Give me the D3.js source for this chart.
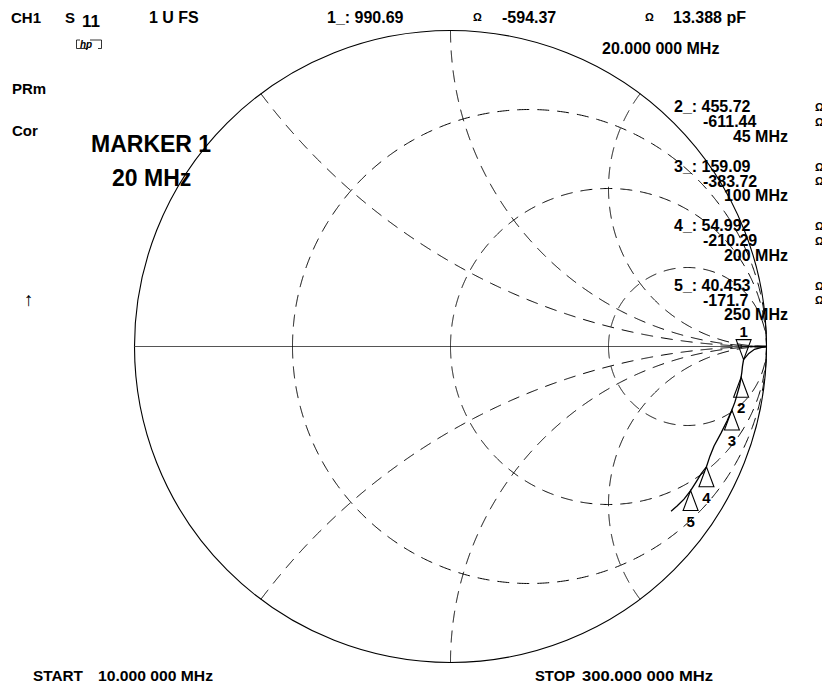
<!DOCTYPE html>
<html><head><meta charset="utf-8">
<script src="https://cdn.jsdelivr.net/npm/d3@7"></script>
<style>
body{margin:0;background:#fff}
svg{display:block}
text{font-family:"Liberation Sans",Arial,Helvetica,sans-serif;font-weight:bold;fill:#000}
</style>
</head><body>
<svg id="chart" width="822" height="689"></svg>
<script>
// ---------- data ----------
const z0 = 50;
const resistanceCircles = [1/3, 1, 3];
const reactanceArcs = [0.5, 1, 2, -0.5, -1, -2];
const markerIds = [1, 2, 3, 4, 5];
const markerFreqMHz = [20, 45, 100, 200, 250];
const markerR = [990.69, 455.72, 159.09, 54.992, 40.453];
const markerX = [-594.37, -611.44, -383.72, -210.29, -171.7];
const activeMarkerReadout = ["1_: 990.69", "-594.37", "13.388 pF"];
const activeMarkerFreq = "20.000 000 MHz";
// trace, reflection coefficient (re, im), 10 MHz .. 300 MHz
const traceRe = [0.998, 0.985, 0.962, 0.944, 0.9275, 0.924, 0.922, 0.9197, 0.9146, 0.9066, 0.900, 0.8905, 0.875, 0.856, 0.834, 0.821, 0.810, 0.793, 0.777, 0.7598, 0.739, 0.717, 0.698];
const traceIm = [-0.001, -0.003, -0.009, -0.022, -0.0414, -0.062, -0.081, -0.0971, -0.125, -0.153, -0.176, -0.2009, -0.236, -0.274, -0.315, -0.347, -0.3807, -0.403, -0.429, -0.4559, -0.483, -0.505, -0.521];
const startLabel = ["START", "10.000 000 MHz"];
const stopLabel = ["STOP", "300.000 000 MHz"];

// ---------- scales ----------
const cx = 450.5, cy = 346.5, rad = 316;
const xs = d3.scaleLinear().domain([-1, 1]).range([cx - rad, cx + rad]);
const ys = d3.scaleLinear().domain([-1, 1]).range([cy + rad, cy - rad]);

function gamma(zr, zi) { // normalized z -> Gamma
  const nr = zr - 1, ni = zi, dr = zr + 1, di = zi;
  const d = dr * dr + di * di;
  return [(nr * dr + ni * di) / d, (ni * dr - nr * di) / d];
}
const line = d3.line().x(d => xs(d[0])).y(d => ys(d[1]));
const N = 600;
const ts = d3.range(N).map(i => i / N);

const svg = d3.select("#chart");
const g = svg.append("g");

// outer circle
g.append("circle").attr("cx", xs(0)).attr("cy", ys(0)).attr("r", xs(1) - xs(0))
  .attr("fill", "none").attr("stroke", "#000").attr("stroke-width", 1.1);
// real axis
g.append("line").attr("x1", xs(-1)).attr("x2", xs(1)).attr("y1", ys(0)).attr("y2", ys(0))
  .attr("stroke", "#555").attr("stroke-width", 1.2);

const dash = "12,8";
// constant resistance circles (two halves starting at the real axis)
resistanceCircles.forEach(r => {
  [1, -1].forEach(s => {
    const pts = ts.map(t => gamma(r, s * t / (1 - t)));
    pts.push([1, 0]);
    g.append("path").attr("d", line(pts)).attr("fill", "none")
      .attr("stroke", "#000").attr("stroke-width", 1).attr("stroke-dasharray", dash);
  });
});
// constant reactance arcs (start at outer circle)
reactanceArcs.forEach(x => {
  const pts = ts.map(t => gamma(t / (1 - t), x));
  pts.push([1, 0]);
  g.append("path").attr("d", line(pts)).attr("fill", "none")
    .attr("stroke", "#000").attr("stroke-width", 1).attr("stroke-dasharray", dash);
});

// trace
const tracePts = traceRe.map((v, i) => [v, traceIm[i]]);
g.append("path").attr("d", line(tracePts)).attr("fill", "none")
  .attr("stroke", "#000").attr("stroke-width", 1.3);
// heavy start segment on the real axis
g.append("line").attr("x1", xs(traceRe[2])).attr("x2", xs(1)).attr("y1", ys(0)).attr("y2", ys(0))
  .attr("stroke", "#000").attr("stroke-width", 2);

// markers
const mk = markerIds.map((id, i) => {
  const gm = gamma(markerR[i] / z0, markerX[i] / z0);
  return { id, f: markerFreqMHz[i], R: markerR[i], X: markerX[i], px: xs(gm[0]), py: ys(gm[1]) };
});
mk.forEach((m, i) => {
  const w = 7.5, h = 20;
  let d, ly;
  if (i === 0) { // active marker: downward triangle
    d = `M${m.px},${m.py} L${m.px - w},${m.py - h} L${m.px + w},${m.py - h} Z`;
    ly = m.py - h - 3;
  } else {
    d = `M${m.px},${m.py} L${m.px - w},${m.py + h} L${m.px + w},${m.py + h} Z`;
    ly = m.py + 36;
  }
  g.append("path").attr("d", d).attr("fill", "none").attr("stroke", "#000").attr("stroke-width", 1.1);
  g.append("text").attr("x", m.px).attr("y", ly).attr("text-anchor", "middle")
    .attr("font-size", 15).text(m.id);
});

// ---------- text annotations ----------
function txt(s, x, y, size, opts) {
  const t = svg.append("text").attr("x", x).attr("y", y).attr("font-size", size).text(s);
  if (opts) Object.entries(opts).forEach(([k, v]) => t.attr(k, v));
  return t;
}
const omega = "\u03A9";
txt("CH1", 11, 22.7, 15);
txt("S", 65, 22.7, 15);
txt("11", 82, 27, 17);
txt("1 U FS", 149, 22.7, 16);
txt(activeMarkerReadout[0], 327, 22.7, 16);
txt(omega, 473, 21, 11, { "font-weight": "normal" });
txt(activeMarkerReadout[1], 502, 22.7, 16);
txt(omega, 645, 21, 11, { "font-weight": "normal" });
txt(activeMarkerReadout[2], 673, 22.7, 16);
txt(activeMarkerFreq, 602, 54, 16);

// hp logo
svg.append("path").attr("d", "M80,40 H76.5 V48.5 H88 M90,40 H101.5 V48.5 H98")
  .attr("fill", "none").attr("stroke", "#000").attr("stroke-width", 0.8);
txt("hp", 80, 47.5, 10, { "font-weight": "normal", "font-style": "italic" });

txt("PRm", 12, 94, 15);
txt("Cor", 12, 136, 15);
txt("MARKER 1", 91, 152, 23);
txt("20 MHz", 112, 186, 23);
txt("\u2191", 24, 306, 19, { "font-weight": "normal", "font-family": "DejaVu Sans" });

// marker readouts on the right
mk.slice(1).forEach((m, k) => {
  const y0 = 112.3 + 59.5 * k;
  txt(`${m.id}_: ${m.R}`, 674, y0, 16);
  txt(`${m.X}`, 703, y0 + 14.7, 16);
  txt(`${m.f} MHz`, 788, y0 + 29.4, 16, { "text-anchor": "end" });
  txt(omega, 815, y0 - 1, 11, { "font-weight": "normal" });
  txt(omega, 815, y0 + 13.5, 11, { "font-weight": "normal" });
});

// start / stop
txt(startLabel[0], 33, 681, 15, { textLength: 50, lengthAdjust: "spacingAndGlyphs" });
txt(startLabel[1], 98, 681, 15, { textLength: 115, lengthAdjust: "spacingAndGlyphs" });
txt(stopLabel[0], 535, 681, 15, { textLength: 40, lengthAdjust: "spacingAndGlyphs" });
txt(stopLabel[1], 582, 681, 15, { textLength: 131, lengthAdjust: "spacingAndGlyphs" });
</script>
</body></html>
